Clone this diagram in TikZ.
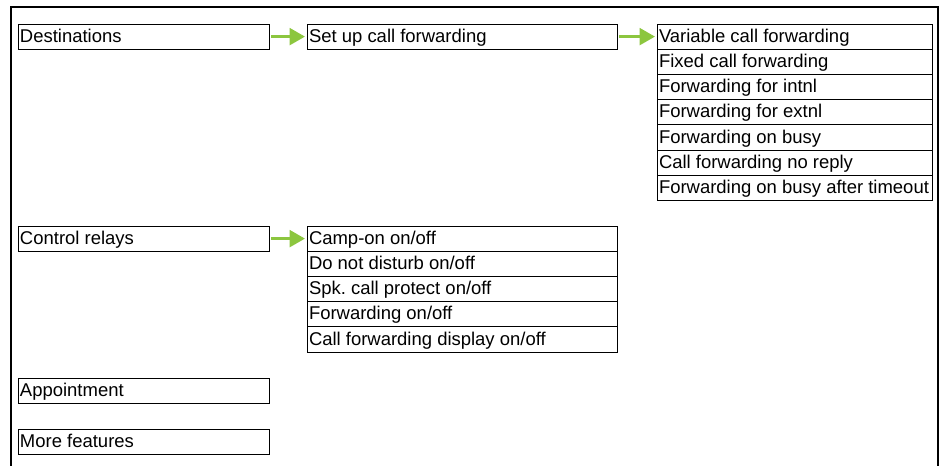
\documentclass[tikz,border=0pt]{standalone}
\usepackage{fontspec}
\setmainfont{Liberation Sans}
\usetikzlibrary{arrows.meta, positioning}
\definecolor{menugreen}{HTML}{8CC63F}
\tikzset{
  % voce di menu
  item/.style={draw=black, line width=0.75pt, outer sep=0pt, inner xsep=1.5pt,
    inner ysep=0pt, minimum height=18.9pt, text height=10pt, text depth=1.6pt,
    align=flush left, font=\fontsize{13.85}{16}\selectfont\frenchspacing},
  item first/.style={item, text width=185.25pt},
  item second/.style={item, text width=229.5pt},
  item third/.style={item, text width=203.25pt},
  % freccia verso il sottomenu
  submenu/.style={-{Triangle[length=11.5pt, width=12.5pt]}, line width=2.25pt,
    menugreen, shorten <=1.5pt, shorten >=1.5pt},
  % cornice
  frameline/.style={line width=1.5pt, black},
}

\begin{document}
\begin{tikzpicture}[x=0.75pt, y=-0.75pt, node distance=0pt]
  \useasboundingbox (0,0) rectangle (943,465);
  \draw[frameline] (11,466) -- (11,7) -- (937.5,7) -- (937.5,466);

  % destinazioni
  \node[item first, anchor=north west] (dest) at (18,24) {Destinations};
  \node[item second, right=28.5pt of dest] (setup) {Set up call forwarding};
  \node[item third, right=30pt of setup] (var) {Variable call forwarding};
  \node[item third, below=of var] (fixed) {Fixed call forwarding};
  \node[item third, below=of fixed] (intnl) {Forwarding for intnl};
  \node[item third, below=of intnl] (extnl) {Forwarding for extnl};
  \node[item third, below=of extnl] (busy) {Forwarding on busy};
  \node[item third, below=of busy] (noreply) {Call forwarding no reply};
  \node[item third, below=of noreply] (timeout) {Forwarding on busy after timeout};
  \draw[submenu] (dest.east) -- (setup.west);
  \draw[submenu] (setup.east) -- (var.west);

  % relè di controllo
  \node[item first, anchor=north west] (relays) at (18,226) {Control relays};
  \node[item second, right=28.5pt of relays] (campon) {Camp-on on/off};
  \node[item second, below=of campon] (dnd) {Do not disturb on/off};
  \node[item second, below=of dnd] (spk) {Spk. call protect on/off};
  \node[item second, below=of spk] (fwd) {Forwarding on/off};
  \node[item second, below=of fwd] (fwddisp) {Call forwarding display on/off};
  \draw[submenu] (relays.east) -- (campon.west);

  % altre voci
  \node[item first, anchor=north west] (appt) at (18,378) {Appointment};
  \node[item first, anchor=north west] (more) at (18,429) {More features};
\end{tikzpicture}
\end{document}
